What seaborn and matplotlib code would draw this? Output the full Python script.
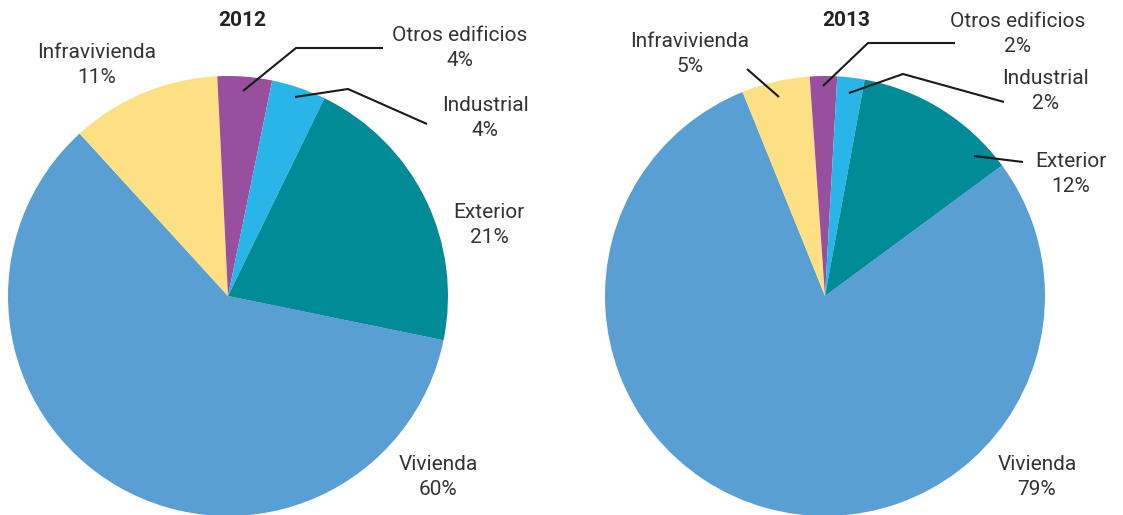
import numpy as np
import matplotlib
matplotlib.use("Agg")
import matplotlib.pyplot as plt
import seaborn as sns

# data
categories = ["Vivienda", "Infravivienda", "Otros edificios", "Industrial", "Exterior"]
values_2012 = [60, 11, 4, 4, 21]
values_2013 = [79, 5, 2, 2, 12]
years = ["2012", "2013"]

colors = ["#5a9fd4", "#fde084", "#984f9d", "#2ab5e8", "#008b96"]

sns.set_theme(style="white")
plt.rcParams["font.family"] = ["Roboto", "DejaVu Sans"]

W, H = 1123, 515
R = 220
fig = plt.figure(figsize=(W / 100, H / 100), dpi=100)

# pixel layout per pie: center, start angle, label positions, leader lines
layouts = [
    dict(center=(228, 296), start=-11.6, title=(242, 20),
         labels=[(438, 477), (97, 65), (460, 48), (485, 118), (489, 225)],
         lines=[[(243, 91), (296, 48), (383, 48)],
                [(295, 97), (348, 89), (427, 124)]]),
    dict(center=(825, 296), start=36.4, title=(846, 20),
         labels=[(1037, 477), (690, 54), (1018, 34), (1046, 91), (1071, 174)],
         lines=[[(779, 97), (747, 69)],
                [(823, 86), (868, 43), (955, 43)],
                [(849, 93), (903, 74), (1004, 102)],
                [(974, 156), (1023, 162)]]),
]

for year, vals, lay in zip(years, [values_2012, values_2013], layouts):
    cx, cy = lay["center"]
    ax = fig.add_axes([(cx - R) / W, (H - cy - R) / H, 2 * R / W, 2 * R / H])
    ax.pie(vals, colors=colors, startangle=lay["start"], counterclock=False,
           radius=1, wedgeprops=dict(linewidth=0))
    ax.set_xlim(-1, 1)
    ax.set_ylim(-1, 1)
    ax.set_aspect("equal")
    ax.axis("off")

    def to_data(p):
        return ((p[0] - cx) / R, (cy - p[1]) / R)

    tx, ty = to_data(lay["title"])
    ax.text(tx, ty, year, ha="center", va="center", fontsize=15,
            fontweight="bold", color="#222222", clip_on=False)

    for cat, v, pos in zip(categories, vals, lay["labels"]):
        lx, ly = to_data(pos)
        ax.text(lx, ly, f"{cat}\n{v}%", ha="center", va="center", fontsize=15,
                color="#333333", linespacing=1.45, clip_on=False)

    for pts in lay["lines"]:
        d = np.array([to_data(p) for p in pts])
        ax.plot(d[:, 0], d[:, 1], color="#1a1a1a", lw=1.5, clip_on=False,
                solid_capstyle="butt")

fig.savefig("out.png", dpi=100)
